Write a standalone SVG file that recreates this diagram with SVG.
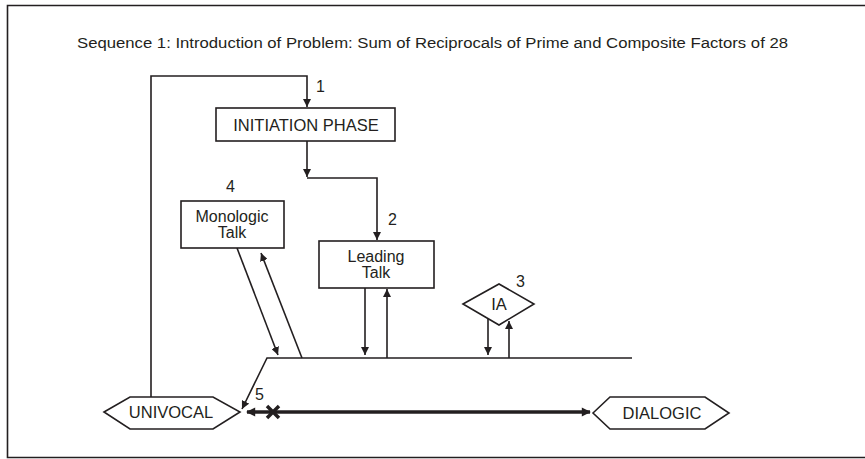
<svg xmlns="http://www.w3.org/2000/svg" width="865" height="459" viewBox="0 0 865 459">
  <style>
    text { font-family: "Liberation Sans", Arial, sans-serif; fill: #231f20; }
    .node { fill: #fff; stroke: #231f20; stroke-width: 1.6; }
    .lbl { font-size: 16.5px; text-anchor: middle; }
    .two { font-size: 16px; text-anchor: middle; }
    .num { font-size: 16px; }
    .edge { fill: none; stroke: #231f20; stroke-width: 1.6; }
    .thick { fill: none; stroke: #231f20; stroke-width: 3.5; }
  </style>
  <defs>
    <marker id="ah" viewBox="0 0 10 10" refX="10" refY="5" markerWidth="5" markerHeight="5" markerUnits="strokeWidth" orient="auto">
      <path d="M0,0 L10,5 L0,10 Z" fill="#231f20"/>
    </marker>
    <marker id="ahThick" viewBox="0 0 10 10" refX="9" refY="5" markerWidth="3.6" markerHeight="2.6" markerUnits="strokeWidth" orient="auto-start-reverse">
      <path d="M0,0 L10,5 L0,10 Z" fill="#231f20"/>
    </marker>
  </defs>

  <rect width="865" height="459" fill="#fff"/>
  <!-- frame -->
  <path d="M880,5.5 H7.5 V457.5 H880" fill="none" stroke="#231f20" stroke-width="1.6"/>

  <text x="77" y="48" font-size="15.5" textLength="711" lengthAdjust="spacingAndGlyphs">Sequence 1: Introduction of Problem: Sum of Reciprocals of Prime and Composite Factors of 28</text>

  <g id="connectors">
    <path class="edge" d="M151,397 V76 H307 V107" marker-end="url(#ah)"/>
    <path class="edge" d="M307,141 V177" marker-end="url(#ah)"/>
    <path class="edge" d="M307,178 H377 V240" marker-end="url(#ah)"/>
    <path class="edge" d="M237,248 L278,355" marker-end="url(#ah)"/>
    <path class="edge" d="M302,358 L261,253" marker-end="url(#ah)"/>
    <path class="edge" d="M365,288 V355" marker-end="url(#ah)"/>
    <path class="edge" d="M387,358 V289" marker-end="url(#ah)"/>
    <path class="edge" d="M488,319 V355" marker-end="url(#ah)"/>
    <path class="edge" d="M509,358 V321" marker-end="url(#ah)"/>
    <path class="edge" d="M632,358 H267 L242,409" marker-end="url(#ah)"/>
    <path class="thick" d="M247,412 H590" marker-start="url(#ahThick)" marker-end="url(#ahThick)"/>
    <path class="thick" d="M267,406 L279,418 M279,406 L267,418"/>
  </g>

  <g id="initiation">
    <rect class="node" x="216" y="108" width="179" height="33"/>
    <text class="lbl" x="306" y="131">INITIATION PHASE</text>
    <text class="num" x="316" y="92">1</text>
  </g>

  <g id="monologic">
    <rect class="node" x="181" y="201" width="103" height="47"/>
    <text class="two" x="232" y="222">Monologic<tspan x="232" dy="16">Talk</tspan></text>
    <text class="num" x="226" y="192">4</text>
  </g>

  <g id="leading">
    <rect class="node" x="319" y="241" width="115" height="47"/>
    <text class="two" x="376" y="262">Leading<tspan x="376" dy="16">Talk</tspan></text>
    <text class="num" x="388" y="225">2</text>
  </g>

  <g id="ia">
    <path class="node" d="M463,304 L499,284 L534,304 L499,325 Z"/>
    <text class="lbl" x="499" y="310">IA</text>
    <text class="num" x="516" y="287">3</text>
  </g>

  <g id="univocal">
    <path class="node" d="M104,412 L130,397 H213 L240,412 L213,429 H130 Z"/>
    <text class="lbl" x="171" y="418">UNIVOCAL</text>
    <text class="num" x="255" y="400">5</text>
  </g>

  <g id="dialogic">
    <path class="node" d="M593,413 L610,397 H705 L729,413 L705,429 H610 Z"/>
    <text class="lbl" x="662" y="419">DIALOGIC</text>
  </g>
</svg>
